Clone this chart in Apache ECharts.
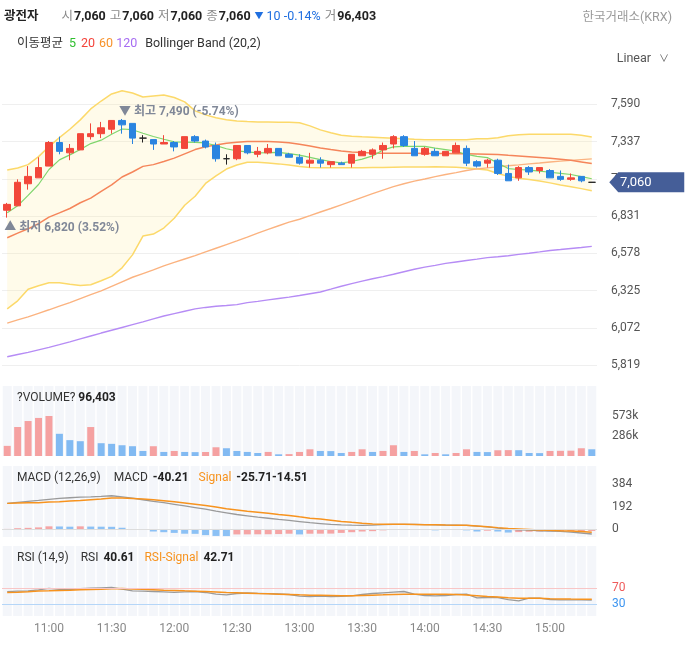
<!DOCTYPE html>
<html>
<head>
<meta charset="utf-8">
<script src="https://cdn.jsdelivr.net/npm/echarts@6/dist/echarts.min.js"></script>
<style>
html,body{margin:0;padding:0;background:#fff;}
#chart{width:688px;height:647px;}
</style>
</head>
<body>
<div id="chart"></div>
<script>
// ---------- data ----------
const stockName = '광전자';
const times = ['10:40','10:45','10:50','10:55','11:00','11:05','11:10','11:15','11:20','11:25','11:30','11:35','11:40','11:45','11:50','11:55','12:00','12:05','12:10','12:15','12:20','12:25','12:30','12:35','12:40','12:45','12:50','12:55','13:00','13:05','13:10','13:15','13:20','13:25','13:30','13:35','13:40','13:45','13:50','13:55','14:00','14:05','14:10','14:15','14:20','14:25','14:30','14:35','14:40','14:45','14:50','14:55','15:00','15:05','15:10','15:15','15:20'];
const open  = [6870,6900,7050,7090,7170,7330,7260,7280,7370,7390,7420,7480,7460,7360,7350,7320,7330,7290,7370,7340,7310,7220,7220,7310,7250,7260,7290,7250,7230,7190,7210,7180,7190,7190,7240,7250,7280,7320,7370,7290,7250,7270,7240,7260,7290,7200,7190,7210,7120,7090,7160,7140,7140,7100,7080,7100,7060];
const close = [6910,7060,7100,7160,7330,7270,7290,7390,7390,7430,7480,7450,7360,7360,7320,7330,7300,7370,7340,7300,7220,7220,7310,7260,7270,7290,7240,7230,7190,7210,7190,7200,7180,7250,7270,7280,7310,7370,7310,7240,7290,7240,7270,7310,7190,7170,7210,7120,7070,7160,7130,7160,7090,7080,7090,7070,7060];
const low   = [6820,6900,7010,7090,7170,7250,7210,7280,7350,7360,7390,7390,7320,7330,7280,7320,7270,7290,7330,7290,7200,7180,7210,7250,7230,7250,7240,7230,7180,7160,7160,7160,7180,7160,7240,7220,7220,7290,7300,7240,7240,7240,7240,7260,7170,7160,7160,7110,7070,7070,7110,7120,7090,7070,7070,7060,7060];
const high  = [6920,7080,7170,7230,7340,7370,7320,7390,7460,7470,7480,7490,7460,7380,7350,7380,7340,7370,7380,7350,7330,7250,7310,7310,7300,7320,7290,7260,7250,7260,7230,7200,7200,7250,7280,7290,7330,7380,7380,7340,7300,7290,7270,7330,7310,7210,7220,7220,7180,7170,7170,7160,7150,7140,7120,7100,7060];

const ma5   = [6853,6900,6971,7045,7147,7212,7246,7283,7323,7346,7386,7422,7417,7393,7371,7352,7334,7333,7331,7327,7309,7288,7273,7266,7260,7261,7263,7255,7244,7229,7214,7201,7192,7201,7217,7239,7279,7300,7304,7304,7304,7292,7282,7271,7249,7236,7228,7190,7153,7147,7143,7136,7128,7121,7113,7099,7084];
const ma20  = [6683,6715,6744,6779,6823,6852,6882,6921,6952,6998,7042,7096,7130,7168,7180,7201,7224,7253,7282,7301,7313,7325,7332,7337,7337,7337,7334,7328,7318,7306,7293,7282,7272,7266,7263,7259,7257,7258,7258,7257,7256,7256,7255,7254,7253,7252,7251,7248,7243,7239,7234,7229,7224,7217,7209,7198,7187];
const ma60  = [6103,6125,6146,6170,6194,6219,6243,6270,6297,6322,6353,6384,6415,6440,6465,6492,6516,6539,6562,6587,6612,6637,6662,6688,6715,6740,6765,6789,6809,6833,6858,6882,6907,6932,6958,6983,7007,7031,7050,7068,7082,7098,7113,7126,7140,7151,7158,7165,7172,7178,7185,7191,7198,7204,7209,7214,7219];
const ma120 = [5875,5890,5905,5922,5939,5957,5976,5996,6016,6036,6055,6074,6093,6112,6132,6152,6168,6184,6200,6210,6218,6223,6229,6243,6251,6261,6271,6280,6291,6303,6315,6334,6354,6372,6389,6405,6419,6435,6452,6469,6484,6496,6509,6519,6529,6538,6548,6554,6561,6570,6578,6587,6597,6603,6610,6617,6625];
const bbUpper = [7143,7157,7180,7234,7302,7363,7420,7484,7558,7612,7660,7682,7666,7639,7646,7653,7636,7606,7545,7518,7498,7484,7477,7473,7470,7470,7468,7467,7464,7443,7416,7396,7379,7373,7369,7366,7363,7359,7356,7352,7349,7349,7349,7349,7349,7356,7356,7363,7376,7383,7386,7387,7387,7387,7386,7379,7367];
const bbLower = [6200,6255,6334,6357,6378,6378,6367,6359,6364,6391,6421,6479,6567,6695,6708,6749,6816,6904,6965,7052,7104,7150,7177,7196,7196,7191,7185,7177,7167,7160,7158,7158,7158,7158,7159,7160,7161,7162,7163,7163,7164,7165,7164,7162,7157,7150,7143,7120,7100,7087,7079,7069,7056,7042,7030,7017,7002];

const volume = [145200,415300,501100,545400,573000,318200,227400,212100,415000,183300,174100,154200,140300,72400,140100,58200,72300,58100,55400,57300,125100,111200,72100,58300,43200,58400,24300,27100,58200,96100,72200,70300,43100,58200,96300,58100,72400,154100,58300,72200,24100,43300,24200,43400,96200,58300,56100,82300,84200,83100,43200,41300,72100,74200,76300,111200,96403];

const macd       = [221,230,238,246,255,263,269,274,277,281,286,277,266,252,238,227,213,199,185,171,154,140,126,115,104,94,84,76,66,56,49,42,38,35,34,36,39,42,42,41,39,38,36,35,34,27,20,10,1,-4,-8,-13,-15,-18,-24,-32,-40.21];
const macdSignal = [221,224,227,227,232,235,241,246,252,258,266,266,263,258,252,244,235,224,213,202,190,176,165,154,146,136,126,118,106,95,87,77,67,59,52,46,43,42,42,41,39,38,36,35,34,28,22,14,7,3,-1,-6,-8,-13,-15,-20,-25.71];
const macdOsc    = [3,9,12,16,25,24,22,25,23,22,21,13,0,-6,-19,-25,-31,-38,-39,-50,-57,-58,-44,-43.5,-43,-42.5,-41,-38,-44,-38,-37.5,-37,-31,-25,-19,-16,-9,-3,-1,-0.5,0,-9,-6,-4,-9,-19,-12,-19,-28,-24,-21,-19,-18,-17.5,-17,-16,-14.51];

const rsi       = [61.9,63.2,64,66.6,70,67.9,67,69.6,70.9,71.7,72.6,68.3,64,63.2,62.3,61.5,60.2,61.5,62.3,59.8,55.5,53.8,57.2,58.5,57.7,56.8,56,54.7,50.4,49.6,50.4,49.6,50,51.3,54.7,57.2,58.9,60.6,62.3,55.5,52.1,51.3,52.1,54.7,55.5,46.2,47,47,41.9,38.5,45.3,45.3,41.9,41.1,41.1,41.1,40.61];
const rsiSignal = [59.8,60.6,61.9,63.6,64,64.9,65.7,66.6,67.4,68.3,69.6,70,68.7,67.9,67,65.7,64.9,64,63.2,62.3,61.1,59.8,58.9,58.1,57.2,56.4,55.5,54.7,53.8,53,52.6,52.1,51.3,51.3,52.1,53,53.8,54.7,55.5,55.5,55.5,55.5,55.5,54.7,53.4,51.7,49.6,48.3,46.6,45.3,45.3,44.9,43.6,43.3,43,42.8,42.71];

// tick labels
const priceTicks = [5819,6072,6325,6578,6831,7084,7337,7590];
const volTicks   = [286500,573000];
const macdTicks  = [0,192,384];
const rsiTicks   = [30,70];

// ---------- helpers ----------
const FONT = "Roboto, 'Noto Sans CJK KR', sans-serif";
const fmt = v => Number(v).toLocaleString('en-US');
const n = times.length, last = n - 1;
const priceStep = priceTicks[1] - priceTicks[0];
const UP = '#f2473a', DOWN = '#2a84e0';

const candleData = times.map((t, i) => [open[i], close[i], low[i], high[i]]);
const bbWidth = bbUpper.map((v, i) => v - bbLower[i]);

let hiIdx = 0, loIdx = 0;
high.forEach((v, i) => { if (v > high[hiIdx]) hiIdx = i; });
low.forEach((v, i) => { if (v < low[loIdx]) loIdx = i; });
const lastClose = close[last];
const hiPct = ((lastClose - high[hiIdx]) / high[hiIdx] * 100).toFixed(2);
const loPct = ((lastClose - low[loIdx]) / low[loIdx] * 100).toFixed(2);
const chg = close[last] - close[last - 1];
const chgPct = (chg / close[last - 1] * 100).toFixed(2);

const ones = times.map(() => 1);

function lineSeries(name, data, color, width, z) {
  return { name, type: 'line', xAxisIndex: 0, yAxisIndex: 0, data, symbol: 'none', silent: true,
    lineStyle: { color, width }, z: z || 2 };
}

// ---------- option ----------
const grids = [
  { left: 2, right: 91, top: 67, height: 298 },
  { left: 2, right: 91, top: 386, height: 70 },
  { left: 2, right: 91, top: 466, height: 71 },
  { left: 2, right: 91, top: 546, height: 70 }
];

const xAxes = [0, 1, 2, 3].map(g => ({
  type: 'category', gridIndex: g, data: times, boundaryGap: true,
  axisLine: { show: false }, axisTick: { show: false },
  axisLabel: g === 3 ? {
    show: true, interval: (i, v) => /:(00|30)$/.test(v), color: '#888', fontSize: 12, margin: 7, fontFamily: FONT
  } : { show: false },
  splitLine: { show: false }
})).concat([1, 2, 3].map(g => ({
  type: 'category', gridIndex: g, data: times, show: false, boundaryGap: true
})));

const labelBase = { color: '#555', fontSize: 12, fontFamily: FONT };
const yAxes = [
  { type: 'value', gridIndex: 0, position: 'right', min: priceTicks[0], max: priceTicks[priceTicks.length - 1] + priceStep,
    interval: priceStep, axisLine: { show: false }, axisTick: { show: false },
    axisLabel: Object.assign({ margin: 14, showMaxLabel: false, formatter: v => fmt(v) }, labelBase),
    splitLine: { show: true, showMaxLine: false, lineStyle: { color: '#efefef', width: 1 } } },
  { type: 'value', gridIndex: 1, position: 'right', min: 0, max: 1003000,
    axisLine: { show: false }, axisTick: { show: false }, splitLine: { show: false },
    axisLabel: Object.assign({ margin: 15, customValues: volTicks, formatter: v => Math.floor(v / 1000) + 'k' }, labelBase) },
  { type: 'value', gridIndex: 2, position: 'right', min: -66, max: 540,
    axisLine: { show: false }, axisTick: { show: false }, splitLine: { show: false },
    axisLabel: Object.assign({ margin: 15, customValues: macdTicks, formatter: v => String(v) }, labelBase) },
  { type: 'value', gridIndex: 3, position: 'right', min: 0, max: 178,
    axisLine: { show: false }, axisTick: { show: false }, splitLine: { show: false },
    axisLabel: { margin: 15, customValues: rsiTicks, fontSize: 12, fontFamily: FONT,
      formatter: v => String(v), color: v => (Number(v) >= 50 ? '#ef5a5a' : '#3d95f0') } }
].concat([1, 2, 3].map(g => ({ type: 'value', gridIndex: g, min: 0, max: 1, show: false })));

const stripeSeries = [1, 2, 3].map(g => ({
  type: 'bar', xAxisIndex: 3 + g, yAxisIndex: 3 + g, data: ones, barWidth: '86%', silent: true,
  itemStyle: { color: '#f4f6fa' }, z: 0
}));

const grayLabel = { color: '#808898', fontSize: 12, fontWeight: 'bold', fontFamily: FONT };

const series = [
  // bollinger fill (stacked)
  { type: 'line', xAxisIndex: 0, yAxisIndex: 0, stack: 'bb', data: bbLower, symbol: 'none', silent: true,
    lineStyle: { opacity: 0 }, z: 1 },
  { type: 'line', xAxisIndex: 0, yAxisIndex: 0, stack: 'bb', data: bbWidth, symbol: 'none', silent: true,
    lineStyle: { opacity: 0 }, areaStyle: { color: 'rgba(255,232,140,0.26)' }, z: 1 },
  lineSeries('bbUpper', bbUpper, '#fcd96a', 1.5),
  lineSeries('bbLower', bbLower, '#fcd96a', 1.5),
  lineSeries('ma120', ma120, '#b68cf5', 1.4),
  lineSeries('ma60', ma60, '#fbb380', 1.4),
  lineSeries('ma20', ma20, '#f5855a', 1.5),
  lineSeries('ma5', ma5, '#80d66e', 1.2),
  { type: 'candlestick', xAxisIndex: 0, yAxisIndex: 0, data: candleData, barWidth: 7, z: 4, silent: true,
    itemStyle: { color: UP, color0: DOWN, borderColor: UP, borderColor0: DOWN, borderColorDoji: '#222', borderWidth: 1 },
    markPoint: {
      silent: true, symbol: 'circle', symbolSize: 1, itemStyle: { color: 'rgba(0,0,0,0)' },
      data: [
        { coord: [hiIdx, high[hiIdx]], label: Object.assign({ show: true, position: 'inside', align: 'left', verticalAlign: 'bottom', offset: [-3, -1],
          formatter: '▼ 최고 ' + fmt(high[hiIdx]) + ' (' + hiPct + '%)' }, grayLabel) },
        { coord: [loIdx, low[loIdx]], label: Object.assign({ show: true, position: 'inside', align: 'left', verticalAlign: 'top', offset: [-3, 4],
          formatter: '▲ 최저 ' + fmt(low[loIdx]) + ' (' + loPct + '%)' }, grayLabel) },
        { coord: [last, lastClose], symbol: 'path://M0,10L9,0L75,0L75,20L9,20Z', symbolSize: [75, 20], symbolOffset: [55, 0],
          itemStyle: { color: '#455e98' },
          label: { show: true, position: 'inside', offset: [-11, 0], color: '#fff', fontSize: 13, fontFamily: FONT, formatter: fmt(lastClose) } }
      ]
    }
  },
  // volume
  { type: 'bar', xAxisIndex: 1, yAxisIndex: 1, data: volume, barWidth: 7, silent: true, z: 2,
    itemStyle: { color: p => (p.dataIndex === 0 || volume[p.dataIndex] > volume[p.dataIndex - 1]) ? '#f5a1a1' : '#82baf2' } },
  // macd
  { type: 'bar', xAxisIndex: 2, yAxisIndex: 2, data: macdOsc, barWidth: 7, silent: true, z: 2,
    itemStyle: { color: p => (p.dataIndex === 0 || macdOsc[p.dataIndex] > macdOsc[p.dataIndex - 1]) ? '#f5a5a5' : '#8cc1f5' },
    markLine: { silent: true, symbol: 'none', label: { show: false }, lineStyle: { color: '#dddddd', type: 'solid', width: 1 },
      data: [{ yAxis: 0 }] } },
  { type: 'line', xAxisIndex: 2, yAxisIndex: 2, data: macd, symbol: 'none', silent: true, lineStyle: { color: '#9a9a9a', width: 1.3 }, z: 3 },
  { type: 'line', xAxisIndex: 2, yAxisIndex: 2, data: macdSignal, symbol: 'none', silent: true, lineStyle: { color: '#f7931e', width: 1.5 }, z: 3 },
  // rsi
  { type: 'line', xAxisIndex: 3, yAxisIndex: 3, data: rsi, symbol: 'none', silent: true, lineStyle: { color: '#9a9a9a', width: 1.3 }, z: 3,
    markLine: { silent: true, symbol: 'none', label: { show: false },
      data: [{ yAxis: rsiTicks[1], lineStyle: { color: '#f8c6c6', type: 'solid', width: 1 } },
             { yAxis: rsiTicks[0], lineStyle: { color: '#b5d6f8', type: 'solid', width: 1 } }] } },
  { type: 'line', xAxisIndex: 3, yAxisIndex: 3, data: rsiSignal, symbol: 'none', silent: true, lineStyle: { color: '#f7931e', width: 1.5 }, z: 3 }
].concat(stripeSeries);

const line1 = '{name|' + stockName + '}{lab|시}{num|' + fmt(open[last]) + '}{lab|고}{num|' + fmt(high[last]) +
  '}{lab|저}{num|' + fmt(low[last]) + '}{lab|종}{num|' + fmt(close[last]) + '}{arr|' + (chg < 0 ? '▼' : '▲') + '}{dn|' +
  fmt(Math.abs(chg)) + ' ' + chgPct + '%}{lab|거}{num|' + fmt(volume[last]) + '}';

const titles = [
  { left: 4, top: 9, padding: 0, text: line1, textStyle: { fontFamily: FONT, fontWeight: 'normal', rich: {
      name: { fontSize: 12.5, fontWeight: 'bold', color: '#222', padding: [0, 23, 0, 0], fontFamily: FONT, lineHeight: 16 },
      lab: { fontSize: 12.5, color: '#8a8a8a', padding: [0, 1, 0, 0], fontFamily: FONT, lineHeight: 16 },
      num: { fontSize: 12.5, fontWeight: 'bold', color: '#222', padding: [0, 4, 0, 0], fontFamily: FONT, lineHeight: 16 },
      arr: { fontSize: 9, color: '#1f6fe0', padding: [0, 3, 0, 0], fontFamily: FONT, lineHeight: 16 },
      dn: { fontSize: 12.5, color: '#1f6fe0', padding: [0, 4, 0, 0], fontFamily: FONT, lineHeight: 16 }
  } } },
  { right: 16, top: 10, padding: 0, text: '한국거래소(KRX)', textStyle: { fontFamily: FONT, fontWeight: 'normal', fontSize: 12.5, color: '#9a9a9a', lineHeight: 16 } },
  { left: 17, top: 36, padding: 0, text: '{t|이동평균}{g|5}{r|20}{o|60}{p|120}{t|Bollinger Band (20,2)}', textStyle: { fontFamily: FONT, fontWeight: 'normal', rich: {
      t: { fontSize: 12.5, color: '#333', padding: [0, 6, 0, 0], fontFamily: FONT, lineHeight: 16 },
      g: { fontSize: 12.5, color: '#2fbf2f', padding: [0, 5, 0, 0], fontFamily: FONT, lineHeight: 16 },
      r: { fontSize: 12.5, color: '#f4433a', padding: [0, 4, 0, 0], fontFamily: FONT, lineHeight: 16 },
      o: { fontSize: 12.5, color: '#f7922a', padding: [0, 3, 0, 0], fontFamily: FONT, lineHeight: 16 },
      p: { fontSize: 12.5, color: '#a66cf2', padding: [0, 8, 0, 0], fontFamily: FONT, lineHeight: 16 }
  } } },
  { right: 19, top: 51, padding: 0, text: 'Linear{c|∨}', textStyle: { fontFamily: FONT, fontWeight: 'normal', fontSize: 12.5, color: '#555', lineHeight: 16,
      rich: { c: { fontSize: 10, color: '#666', padding: [0, 0, 0, 8], lineHeight: 16 } } } },
  { left: 17, top: 390, padding: 0, text: '?VOLUME? {b|' + fmt(volume[last]) + '}', textStyle: { fontFamily: FONT, fontWeight: 'normal', fontSize: 12, color: '#333', lineHeight: 16,
      rich: { b: { fontWeight: 'bold', color: '#222', fontSize: 12, fontFamily: FONT, lineHeight: 16 } } } },
  { left: 17, top: 470, padding: 0, text: '{t|MACD (12,26,9)}{t2|MACD}{b|' + macd[last].toFixed(2) + '}{o|Signal}{b|' + macdSignal[last].toFixed(2) + macdOsc[last].toFixed(2) + '}',
    textStyle: { fontFamily: FONT, fontWeight: 'normal', rich: {
      t: { fontSize: 12, color: '#333', padding: [0, 13, 0, 0], fontFamily: FONT, lineHeight: 16 },
      t2: { fontSize: 12, color: '#333', padding: [0, 5, 0, 0], fontFamily: FONT, lineHeight: 16 },
      b: { fontSize: 12, fontWeight: 'bold', color: '#222', padding: [0, 10, 0, 0], fontFamily: FONT, lineHeight: 16 },
      o: { fontSize: 12, color: '#f7931e', padding: [0, 5, 0, 0], fontFamily: FONT, lineHeight: 16 }
  } } },
  { left: 17, top: 550, padding: 0, text: '{t|RSI (14,9)}{t2|RSI}{b|' + rsi[last].toFixed(2) + '}{o|RSI-Signal}{b|' + rsiSignal[last].toFixed(2) + '}',
    textStyle: { fontFamily: FONT, fontWeight: 'normal', rich: {
      t: { fontSize: 12, color: '#333', padding: [0, 12, 0, 0], fontFamily: FONT, lineHeight: 16 },
      t2: { fontSize: 12, color: '#333', padding: [0, 5, 0, 0], fontFamily: FONT, lineHeight: 16 },
      b: { fontSize: 12, fontWeight: 'bold', color: '#222', padding: [0, 10, 0, 0], fontFamily: FONT, lineHeight: 16 },
      o: { fontSize: 12, color: '#f7931e', padding: [0, 5, 0, 0], fontFamily: FONT, lineHeight: 16 }
  } } }
];

const chart = echarts.init(document.getElementById('chart'), null, { renderer: 'canvas' });
chart.setOption({
  animation: false,
  backgroundColor: '#fff',
  textStyle: { fontFamily: FONT },
  title: titles,
  grid: grids,
  xAxis: xAxes,
  yAxis: yAxes,
  series: series
});
</script>
</body>
</html>
